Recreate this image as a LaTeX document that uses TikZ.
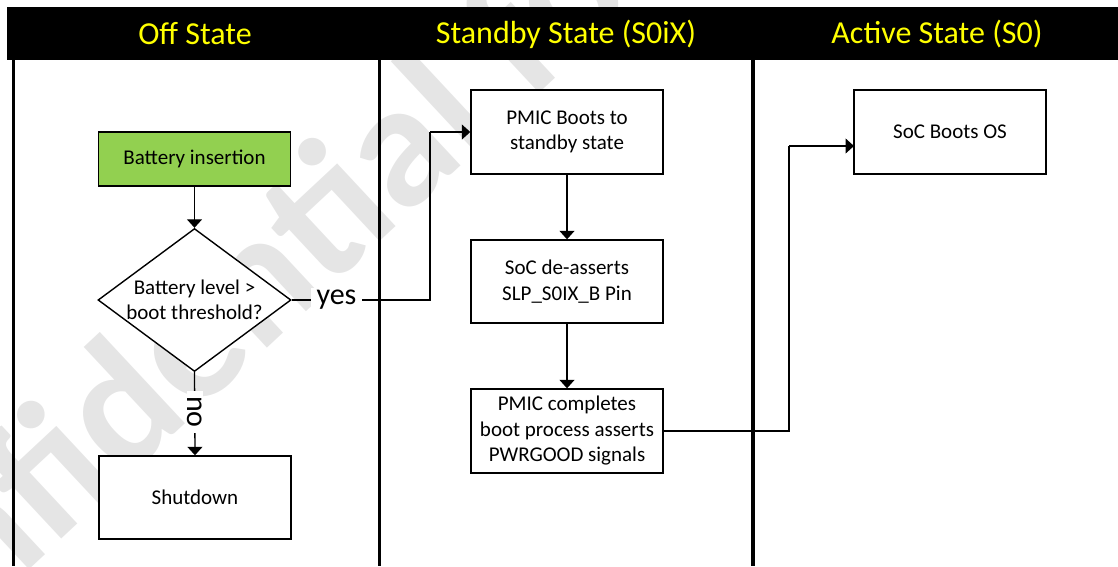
\documentclass[tikz,border=0pt]{standalone}
\usepackage{fontspec}
\setmainfont{Carlito}
\usetikzlibrary{shapes.geometric,arrows.meta}
\definecolor{boxgreen}{HTML}{92D050}
\definecolor{hdryellow}{HTML}{FFFF00}
\begin{document}
\begin{tikzpicture}[x=1pt,y=-1pt,
  stepbox/.style={draw=black, line width=1.4pt, fill=white, minimum width=192pt, minimum height=84pt, inner sep=2pt, align=center, font=\fontsize{21}{25.5}\selectfont},
  decision/.style={diamond, draw=black, line width=1.4pt, fill=white, minimum width=193pt, minimum height=143pt, inner sep=0pt},
  dtext/.style={align=center, inner sep=0pt, font=\fontsize{21}{25.5}\selectfont},
  header/.style={text=hdryellow, font=\fontsize{32}{36}\selectfont, inner sep=0pt},
  lane/.style={line width=3.5pt, black},
  flow/.style={line width=1.3pt, -{Triangle[width=15pt,length=8.5pt]}},
  plain/.style={line width=1.3pt},
  lbl/.style={fill=white, inner xsep=6pt, inner ysep=2pt, font=\fontsize{30}{32}\selectfont},
  watermark/.style={text=black!10, font=\fontsize{178}{178}\selectfont\bfseries, inner sep=0pt}
]
\useasboundingbox (0,0) rectangle (1118,566);
% watermark
\node[watermark, rotate=43] (wm) at (222,305) {Confidential for};
% header band and lanes
\fill[black] (7,7) rectangle (1118,60);
\node[header] (h1) at (195,34) {Off State};
\node[header] (h2) at (566,34) {Standby State (S0iX)};
\node[header] (h3) at (937,34) {Active State (S0)};
\draw[lane] (13.5,60) -- (13.5,566);
\draw[lane] (379.5,60) -- (379.5,566);
\draw[lane] (753,60) -- (753,566);
% nodes
\node[stepbox, fill=boxgreen, minimum height=54pt] (bat) at (194.5,159) {Battery insertion};
\node[decision] (dec) at (194.5,300) {};
\node[dtext] (dect) at (dec.center) {Battery level >\\boot threshold?};
\node[stepbox, minimum height=83pt] (shut) at (195,497.5) {Shutdown};
\node[stepbox] (pb) at (567,132) {PMIC Boots to\\standby state};
\node[stepbox, minimum height=83pt] (soc) at (567,281.5) {SoC de-asserts\\SLP\_S0IX\_B Pin};
\node[stepbox] (pc) at (567,431) {PMIC completes\\boot process asserts\\PWRGOOD signals};
\node[stepbox] (os) at (950,132) {SoC Boots OS};
\coordinate (yesbend) at (430,300);
\coordinate (yestop) at (430,132);
\coordinate (osbendlow) at (789,431);
\coordinate (osbendhigh) at (789,146);
\coordinate (osin) at (854,146);
% connectors
\draw[flow] (bat) -- (dec.north);
\draw[plain] (dec.east) -- (yesbend) -- (yestop);
\draw[flow] (yestop) -- (pb.west);
\node[lbl] (yes) at (336.5,300) {yes};
\draw[flow] (dec.south) -- (shut.north);
\node[lbl, rotate=-90, inner xsep=5pt, inner ysep=1pt] (no) at (195,412) {no};
\draw[flow] (pb) -- (soc);
\draw[flow] (soc) -- (pc);
\draw[plain] (pc.east) -- (osbendlow) -- (osbendhigh);
\draw[flow] (osbendhigh) -- (osin);
\end{tikzpicture}
\end{document}
